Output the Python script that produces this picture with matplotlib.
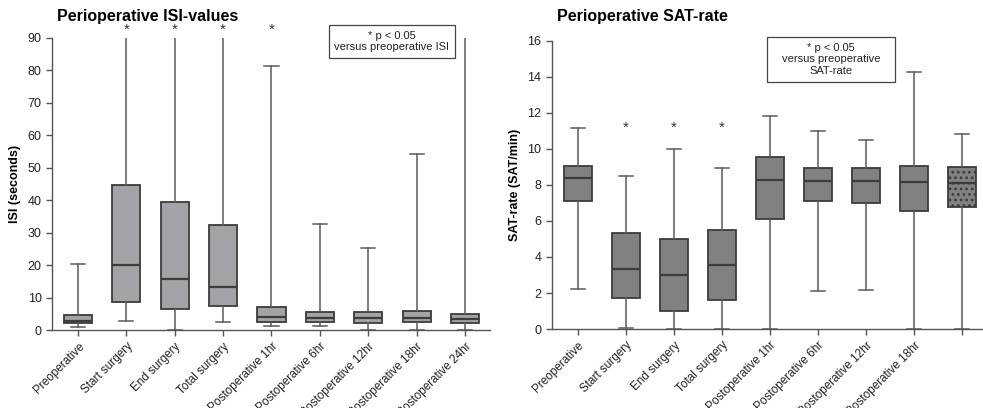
import matplotlib
matplotlib.use('Agg')
import matplotlib.pyplot as plt
from matplotlib.patches import Rectangle

plt.rcParams['font.family'] = ['Liberation Sans', 'DejaVu Sans']
plt.rcParams['hatch.linewidth'] = 1.2

labels_isi = ['Preoperative', 'Start surgery', 'End surgery', 'Total surgery',
              'Postoperative 1hr', 'Postoperative 6hr', 'Postoperative 12hr',
              'Postoperative 18hr', 'Postoperative 24hr']
labels_sat = ['Preoperative', 'Start surgery', 'End surgery', 'Total surgery',
              'Postoperative 1hr', 'Postoperative 6hr', 'Postoperative 12hr',
              'Postoperative 18hr', '']

# ISI (seconds): min, Q1, median, Q3, max  (max > 90 runs off the axis)
isi_min = [1.0, 2.8, 0.0, 2.5, 1.2, 1.2, 0.0, 0.0, 0.0]
isi_q1 = [2.3, 8.8, 6.4, 7.4, 2.6, 2.5, 2.3, 2.5, 2.3]
isi_med = [2.9, 20.2, 15.7, 13.2, 4.0, 3.8, 3.8, 3.8, 3.4]
isi_q3 = [4.6, 44.8, 39.4, 32.3, 7.1, 5.5, 5.7, 5.8, 5.1]
isi_max = [20.3, 100.0, 100.0, 100.0, 81.3, 32.8, 25.2, 54.1, 100.0]
isi_sig = [False, True, True, True, True, False, False, False, False]

# SAT-rate (SAT/min)
sat_min = [2.2, 0.05, 0.0, 0.0, 0.0, 2.13, 2.18, 0.0, 0.0]
sat_q1 = [7.13, 1.7, 0.98, 1.59, 6.12, 7.1, 7.02, 6.56, 6.77]
sat_med = [8.37, 3.33, 2.99, 3.53, 8.28, 8.21, 8.21, 8.19, 8.13]
sat_q3 = [9.06, 5.36, 5.0, 5.49, 9.56, 8.93, 8.96, 9.08, 9.0]
sat_max = [11.15, 8.52, 9.98, 8.96, 11.85, 10.98, 10.5, 14.3, 10.85]
sat_sig = [False, True, True, True, False, False, False, False, False]

edge = '#3c3c3c'
whisk = '#5a5a5a'


def draw_boxes(ax, lo, q1, med, q3, hi, fill):
    stats = [dict(whislo=a, q1=b, med=c, q3=d, whishi=e, fliers=[])
             for a, b, c, d, e in zip(lo, q1, med, q3, hi)]
    pos = list(range(1, len(stats) + 1))
    res = ax.bxp(stats, positions=pos, widths=0.58, patch_artist=True,
                 showfliers=False,
                 boxprops=dict(facecolor=fill, edgecolor=edge, linewidth=1.3),
                 medianprops=dict(color=edge, linewidth=1.6),
                 whiskerprops=dict(color=whisk, linewidth=1.1),
                 capprops=dict(color=whisk, linewidth=1.1))
    return res


def style_axes(ax, labels):
    for s in ['top', 'right']:
        ax.spines[s].set_visible(False)
    for s in ['left', 'bottom']:
        ax.spines[s].set_color('#555555')
        ax.spines[s].set_linewidth(1.0)
    ax.set_xlim(0.46, 9.52)
    ax.tick_params(axis='both', colors='#555555', length=4, width=1.0,
                   labelcolor='#222222', labelsize=9)
    ax.set_xticks(range(1, 10))
    ax.set_xticklabels(labels, rotation=45, ha='right', va='top',
                       rotation_mode='anchor', fontsize=8.5)


fig = plt.figure(figsize=(9.83, 4.08), dpi=100)

# left panel: ISI
ax1 = fig.add_axes([0.0529, 0.191, 0.4456, 0.716])
draw_boxes(ax1, isi_min, isi_q1, isi_med, isi_q3, isi_max, '#a2a2a7')
style_axes(ax1, labels_isi)
ax1.set_ylim(0, 90)
ax1.set_yticks(range(0, 91, 10))
ax1.set_ylabel('ISI (seconds)', fontsize=9, fontweight='bold', labelpad=5)
for i, s in enumerate(isi_sig):
    if s:
        ax1.text(i + 1, 92.5, '*', ha='center', va='center', fontsize=11,
                 color='#333333', clip_on=False)

# right panel: SAT-rate
ax2 = fig.add_axes([0.5615, 0.1936, 0.4425, 0.706])
res = draw_boxes(ax2, sat_min, sat_q1, sat_med, sat_q3, sat_max, '#818181')
res['boxes'][-1].set_hatch('...')
style_axes(ax2, labels_sat)
ax2.set_ylim(0, 16)
ax2.set_yticks(range(0, 17, 2))
ax2.set_ylabel('SAT-rate (SAT/min)', fontsize=9, fontweight='bold', labelpad=5)
for i, s in enumerate(sat_sig):
    if s:
        ax2.text(i + 1, 11.2, '*', ha='center', va='center', fontsize=11,
                 color='#333333')

# titles
fig.text(57 / 983, 1 - 16 / 408, 'Perioperative ISI-values', fontsize=11.5,
         fontweight='bold', ha='left', va='center')
fig.text(557 / 983, 1 - 16 / 408, 'Perioperative SAT-rate', fontsize=11.5,
         fontweight='bold', ha='left', va='center')

# significance notes
fig.add_artist(Rectangle((329 / 983, 1 - 58 / 408), 126 / 983, 33 / 408,
                         transform=fig.transFigure, fill=False,
                         edgecolor='#444444', linewidth=0.9))
fig.text(392 / 983, 1 - 41.5 / 408, '* p < 0.05\nversus preoperative ISI',
         ha='center', va='center', fontsize=8, linespacing=1.15, color='#222222')
fig.add_artist(Rectangle((767 / 983, 1 - 82 / 408), 128 / 983, 45 / 408,
                         transform=fig.transFigure, fill=False,
                         edgecolor='#444444', linewidth=0.9))
fig.text(831 / 983, 1 - 59.5 / 408, '* p < 0.05\nversus preoperative\nSAT-rate',
         ha='center', va='center', fontsize=8, linespacing=1.15, color='#222222')

fig.savefig('out.png', dpi=100)
